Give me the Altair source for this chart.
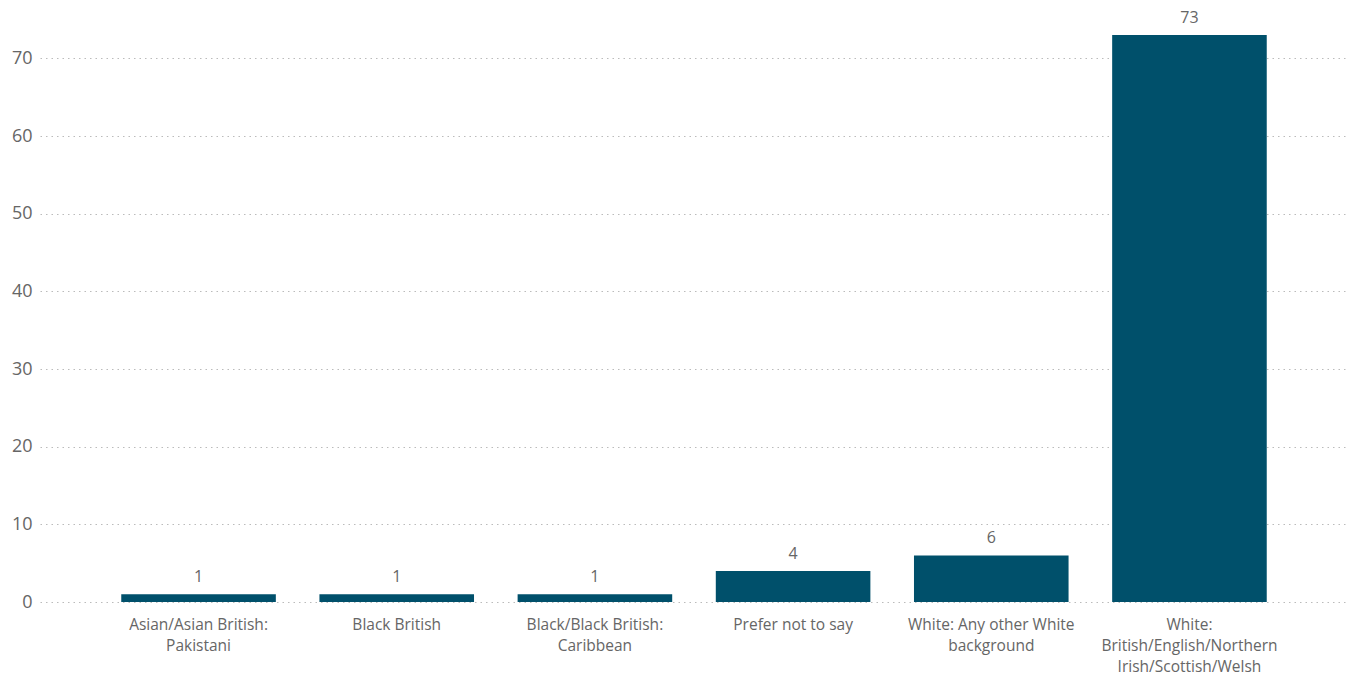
import altair as alt
import pandas as pd

categories = [
    "Asian/Asian British:|Pakistani",
    "Black British",
    "Black/Black British:|Caribbean",
    "Prefer not to say",
    "White: Any other White|background",
    "White:|British/English/Northern|Irish/Scottish/Welsh",
]
counts = [1, 1, 1, 4, 6, 73]
y_ticks = [0, 10, 20, 30, 40, 50, 60, 70]

df = pd.DataFrame({"cat": categories, "n": counts})

FONT = "Open Sans"
BAR = "#00506B"
TXT = "#666666"

x = alt.X(
    "cat:N",
    sort=categories,
    title=None,
    scale=alt.Scale(paddingInner=0.22, paddingOuter=0.41),
    axis=alt.Axis(
        labelExpr="split(datum.label, '|')",
        labelAngle=0,
        labelFont=FONT,
        labelFontSize=15.5,
        labelColor=TXT,
        labelLineHeight=21,
        labelPadding=15,
        domain=False,
        ticks=False,
        grid=False,
        labelBaseline="top",
    ),
)
y = alt.Y(
    "n:Q",
    title=None,
    scale=alt.Scale(domain=[0, 77], nice=False),
    axis=alt.Axis(
        values=y_ticks,
        labelFont=FONT,
        labelFontSize=18,
        labelColor=TXT,
        labelPadding=8,
        domain=False,
        ticks=False,
        grid=True,
        gridColor="#bbbbbb",
        gridDash=[1.5, 4],
        gridWidth=1,
    ),
)

bars = alt.Chart(df).mark_bar(color=BAR).encode(x=x, y=y)
labels = alt.Chart(df).mark_text(
    dy=-9, font=FONT, fontSize=16, color=TXT, baseline="bottom"
).encode(x=alt.X("cat:N", sort=categories), y="n:Q", text="n:Q")

chart = (
    alt.layer(bars, labels)
    .properties(
        width=1308,
        height=598,
        autosize=alt.AutoSizeParams(type="none"),
        padding={"left": 40, "top": 4, "right": 7, "bottom": 75},
    )
    .configure_view(stroke=None)
)

chart.save("out.html", embed_options={"renderer": "svg", "actions": False})
